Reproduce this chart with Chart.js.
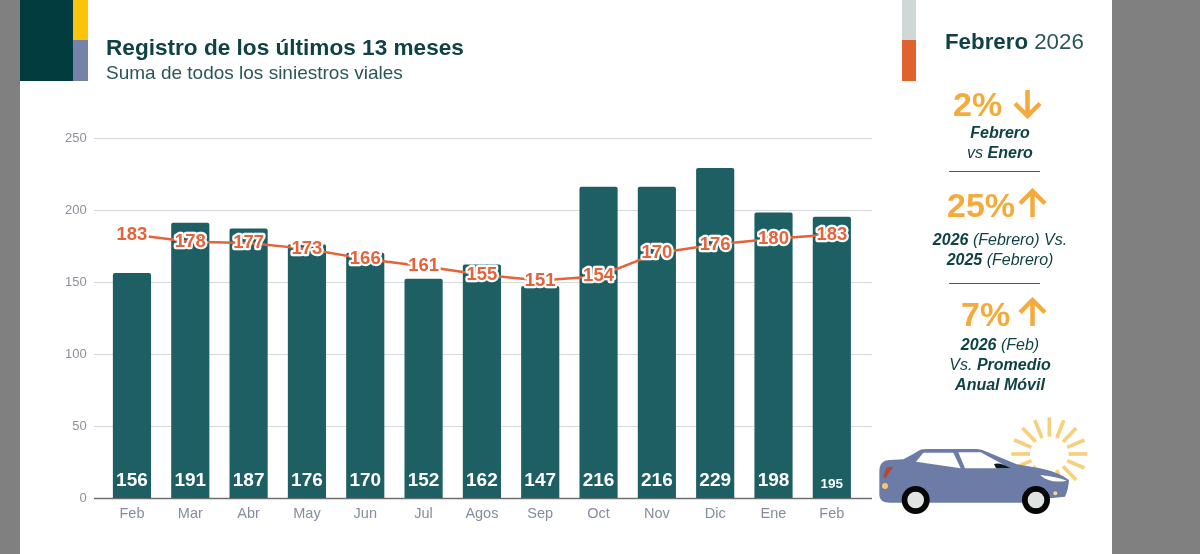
<!DOCTYPE html>
<html lang="es"><head><meta charset="utf-8">
<script src="https://cdn.jsdelivr.net/npm/chart.js@4"></script>
<style>
html,body{margin:0;padding:0;width:1200px;height:554px;overflow:hidden;background:#808080;font-family:"Liberation Sans",Arial,sans-serif;color:#0f4244}
#page{position:absolute;left:20px;top:0;width:1092px;height:554px;background:#fff}
.b{position:absolute}
canvas{position:absolute;left:0;top:0}
.t{position:absolute;white-space:nowrap}
.c{position:absolute;left:900px;width:200px;text-align:center;font-style:italic;font-size:16px;line-height:20px;white-space:nowrap}
.c b{font-weight:700}
.pct{position:absolute;white-space:nowrap;font-weight:700;font-size:34px;line-height:34px;color:#f5ab3c}
.hr{position:absolute;left:949px;width:91px;height:1px;background:#2f6a6a}
svg{position:absolute}
</style></head><body>
<div id="page"></div>
<canvas id="c" width="1200" height="554"></canvas>
<div class="b" style="left:20px;top:0;width:53px;height:81px;background:#033c3f"></div>
<div class="b" style="left:73px;top:0;width:15px;height:40px;background:#fcc30b"></div>
<div class="b" style="left:73px;top:40px;width:15px;height:41px;background:#7683a8"></div>
<div class="b" style="left:902px;top:0;width:14px;height:40px;background:#cfd8d6"></div>
<div class="b" style="left:902px;top:40px;width:14px;height:41px;background:#e0622f"></div>
<div class="t" style="left:106px;top:35px;font-size:22.6px;line-height:26px;font-weight:700">Registro de los últimos 13 meses</div>
<div class="t" style="left:106px;top:62px;font-size:19px;line-height:22px;color:#2d5557">Suma de todos los siniestros viales</div>
<div class="t" style="left:945px;top:29px;font-size:22.3px;line-height:26px"><b>Febrero</b> <span style="color:#2d5557">2026</span></div>

<div class="pct" style="left:953px;top:87px">2%</div>
<svg style="left:1013px;top:89px" width="29" height="30" viewBox="0 0 29 30"><path d="M14.5 1V27M2 14.5L14.5 27L27 14.5" fill="none" stroke="#f5ab3c" stroke-width="4.5"/></svg>
<div class="c" style="top:123px"><b>Febrero</b><br>vs <b>Enero</b></div>
<div class="hr" style="top:171px"></div>
<div class="pct" style="left:947px;top:188px">25%</div>
<svg style="left:1018px;top:188px" width="29" height="30" viewBox="0 0 29 30"><path d="M14.5 29V3M2 15.5L14.5 3L27 15.5" fill="none" stroke="#f5ab3c" stroke-width="4.5"/></svg>
<div class="c" style="top:230px"><b>2026</b> (Febrero) Vs.<br><b>2025</b> (Febrero)</div>
<div class="hr" style="top:283px"></div>
<div class="pct" style="left:961px;top:297px">7%</div>
<svg style="left:1018px;top:297px" width="29" height="30" viewBox="0 0 29 30"><path d="M14.5 29V3M2 15.5L14.5 3L27 15.5" fill="none" stroke="#f5ab3c" stroke-width="4.5"/></svg>
<div class="c" style="top:335px"><b>2026</b> (Feb)<br>Vs. <b>Promedio</b><br><b>Anual Móvil</b></div>

<svg id="car" style="left:870px;top:280px" width="330" height="274" viewBox="0 0 990 822">
<g id="rays" stroke="#f8cf7c" stroke-width="11"></g>
<path d="M28 575Q28 540 60 540L100 538Q125 525 150 510Q155 507 175 507L320 507Q335 508 350 515L440 553L510 565Q570 578 597 600Q595 630 585 650L540 655L500 668L60 668Q28 668 28 645Z" fill="#6c7ca6"/>
<path d="M138 545L160 518H250L272 565Z" fill="#fff"/>
<path d="M265 517L332 517L420 565H285Z" fill="#fff"/>
<path d="M372 552Q390 545 422 565H378Z" fill="#0b1a1c"/>
<path d="M510 585Q560 590 590 602Q540 612 510 585Z" fill="#fff"/>
<path d="M40 590L50 562L70 560L46 595Z" fill="#b5482f"/>
<circle cx="45" cy="618" r="9" fill="#f3c76c"/>
<circle cx="556" cy="640" r="6" fill="#f0d9a0"/>
<circle cx="137" cy="660" r="42" fill="#060606"/><circle cx="137" cy="660" r="25" fill="#dfe4e2"/>
<circle cx="498" cy="660" r="42" fill="#060606"/><circle cx="498" cy="660" r="25" fill="#dfe4e2"/>
</svg>

<script>
const categories=["Feb","Mar","Abr","May","Jun","Jul","Agos","Sep","Oct","Nov","Dic","Ene","Feb"];
const totals=[156,191,187,176,170,152,162,147,216,216,229,198,195];
const movingAvg=[183,178,177,173,166,161,155,151,154,170,176,180,183];
const yTicks=[0,50,100,150,200,250];

const rays=document.getElementById('rays');
[0,22.5,45,67.5,90,112.5,135,157.5,180,202.5,225,247.5,270,292.5,315,337.5].forEach(a=>{
  const r=a*Math.PI/180,l=document.createElementNS('http://www.w3.org/2000/svg','line');
  l.setAttribute('x1',538+58*Math.sin(r));l.setAttribute('y1',522-52*Math.cos(r));
  l.setAttribute('x2',538+114*Math.sin(r));l.setAttribute('y2',522-110*Math.cos(r));
  rays.appendChild(l);
});

const gridExtend={id:'gridExtend',beforeDatasetsDraw(ch){
  const c=ch.ctx,y=ch.scales.y;
  c.save();
  yTicks.forEach(v=>{
    const p=Math.round(y.getPixelForValue(v))+.5;
    c.beginPath();c.moveTo(94,p);c.lineTo(872,p);
    c.strokeStyle=v===0?'#6b6f70':'#d6d9db';c.lineWidth=v===0?1.5:1;c.stroke();
  });
  c.restore();
}};
const labels={id:'labels',afterDatasetsDraw(ch){
  const c=ch.ctx,bars=ch.getDatasetMeta(1).data,pts=ch.getDatasetMeta(0).data,y0=ch.scales.y.getPixelForValue(0);
  c.save();c.textAlign='center';c.textBaseline='middle';
  bars.forEach((b,i)=>{
    c.font='700 '+(i===12?'13.5px':'19px')+' "Liberation Sans"';
    c.fillStyle='#fff';c.fillText(String(totals[i]),b.x,y0-(i===12?13.5:17));
  });
  c.font='700 18.5px "Liberation Sans"';c.lineJoin='round';
  pts.forEach((p,i)=>{
    c.lineWidth=4.5;c.strokeStyle='#fff';c.strokeText(String(movingAvg[i]),p.x,p.y);
    c.fillStyle='#e4633a';c.fillText(String(movingAvg[i]),p.x,p.y);
  });
  c.restore();
}};
new Chart(document.getElementById('c'),{
  data:{labels:categories,datasets:[
    {type:'line',data:movingAvg,borderColor:'#e4633a',borderWidth:2.5,pointRadius:0,tension:0,order:0},
    {type:'bar',data:totals,backgroundColor:'#1d5f63',barThickness:37.5,borderRadius:2,borderSkipped:'bottom',order:1}
  ]},
  options:{responsive:false,animation:false,events:[],
    layout:{padding:{left:0,right:339,top:138,bottom:0}},
    plugins:{legend:{display:false},tooltip:{enabled:false},title:{display:false}},
    scales:{
      x:{offset:true,grid:{display:false},border:{display:false},
        ticks:{color:'#868c9f',font:{size:14.5,family:'"Liberation Sans"'},padding:-1,maxRotation:0,autoSkip:false},
        afterFit(s){s.height=56;}},
      y:{min:0,max:250,grid:{display:false,drawTicks:false},border:{display:false},
        ticks:{stepSize:50,color:'#8a8f9c',font:{size:13,family:'"Liberation Sans"'},padding:16},
        afterFit(s){s.width=102.8;}}
    }
  },
  plugins:[gridExtend,labels]
});
</script>
</body></html>
